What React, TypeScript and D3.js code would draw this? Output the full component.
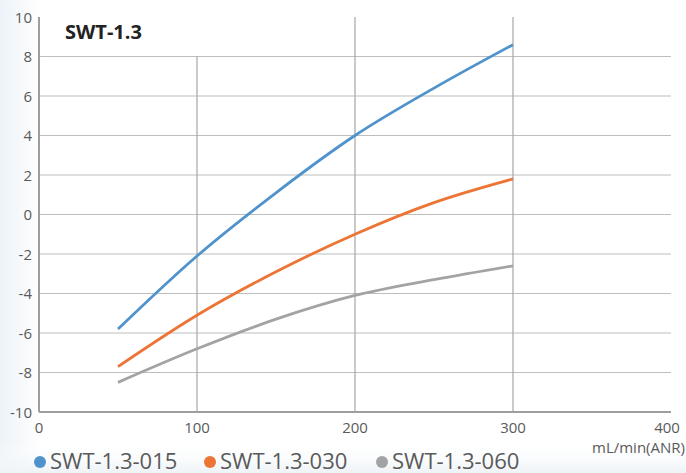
import { useEffect, useRef } from "react";
import * as d3 from "d3";

// flow values (mL/min ANR) and readings for each model
const flows = [50, 100, 150, 200, 250, 300];
const swt015 = [-5.8, -2.1, 1.1, 4.0, 6.4, 8.6];
const swt030 = [-7.7, -5.1, -2.9, -1.0, 0.6, 1.8];
const swt060 = [-8.5, -6.8, -5.3, -4.1, -3.3, -2.6];

const seriesNames = ["SWT-1.3-015", "SWT-1.3-030", "SWT-1.3-060"];
const seriesColors = ["#4f92cc", "#ec7434", "#a3a3a3"];
const xTicks = [0, 100, 200, 300, 400];
const yTicks = [-10, -8, -6, -4, -2, 0, 2, 4, 6, 8, 10];

const App = () => {
  const svgRef = useRef<SVGSVGElement | null>(null);

  const width = 686;
  const height = 473;

  useEffect(() => {
    if (!svgRef.current) return;
    const svg = d3.select(svgRef.current);
    svg.selectAll("*").remove();

    const left = 39;
    const right = 671;
    const top = 17;
    const bottom = 412;

    const x = d3.scaleLinear().domain([0, 400]).range([left, right]);
    const y = d3.scaleLinear().domain([-10, 10]).range([bottom, top]);

    const font = "'Open Sans', 'Noto Sans', sans-serif";
    const textColor = "#5a5a5a";

    // soft background tint
    const defs = svg.append("defs");
    const grad = defs.append("linearGradient").attr("id", "bg").attr("x1", 0).attr("x2", 1).attr("y1", 0).attr("y2", 0);
    grad.append("stop").attr("offset", "0%").attr("stop-color", "#ecf3f8");
    grad.append("stop").attr("offset", "6%").attr("stop-color", "#ffffff");
    grad.append("stop").attr("offset", "100%").attr("stop-color", "#ffffff");
    svg.append("rect").attr("width", width).attr("height", height).attr("fill", "url(#bg)");
    const grad2 = defs.append("linearGradient").attr("id", "bg2").attr("x1", 0).attr("x2", 0).attr("y1", 0).attr("y2", 1);
    grad2.append("stop").attr("offset", "0%").attr("stop-color", "#ffffff").attr("stop-opacity", 0);
    grad2.append("stop").attr("offset", "100%").attr("stop-color", "#eef3f7").attr("stop-opacity", 1);
    svg.append("rect").attr("y", 440).attr("width", width).attr("height", 33).attr("fill", "url(#bg2)");

    // horizontal grid
    svg.append("g")
      .selectAll("line")
      .data(yTicks.filter((t) => t > -10 && t < 10))
      .join("line")
      .attr("x1", left)
      .attr("x2", right)
      .attr("y1", (d) => y(d))
      .attr("y2", (d) => y(d))
      .attr("stroke", "#bdbdbd")
      .attr("stroke-width", 1.2);

    // vertical grid (the 100 line stops under the title)
    svg.append("g")
      .selectAll("line")
      .data(xTicks.filter((t) => t > 0 && t < 400))
      .join("line")
      .attr("x1", (d) => x(d))
      .attr("x2", (d) => x(d))
      .attr("y1", (d) => (d === 100 ? y(8) : top))
      .attr("y2", bottom)
      .attr("stroke", "#a6a6a6")
      .attr("stroke-width", 1.2);

    // axes
    svg.append("line")
      .attr("x1", x(0)).attr("x2", x(0))
      .attr("y1", top).attr("y2", bottom)
      .attr("stroke", "#9e9e9e").attr("stroke-width", 2);
    svg.append("line")
      .attr("x1", left).attr("x2", right)
      .attr("y1", bottom).attr("y2", bottom)
      .attr("stroke", "#9e9e9e").attr("stroke-width", 2);

    // tick labels
    svg.append("g")
      .selectAll("text")
      .data(yTicks)
      .join("text")
      .attr("x", 32)
      .attr("y", (d) => y(d) + 5.5)
      .attr("text-anchor", "end")
      .attr("font-family", font)
      .attr("font-size", 15)
      .attr("fill", textColor)
      .text((d) => d);

    svg.append("g")
      .selectAll("text")
      .data(xTicks)
      .join("text")
      .attr("x", (d) => (d === 400 ? x(d) - 4 : x(d)))
      .attr("y", 433)
      .attr("text-anchor", "middle")
      .attr("font-family", font)
      .attr("font-size", 15)
      .attr("fill", textColor)
      .text((d) => d);

    svg.append("text")
      .attr("x", 685)
      .attr("y", 453)
      .attr("text-anchor", "end")
      .attr("font-family", font)
      .attr("font-size", 15)
      .attr("fill", textColor)
      .text("mL/min(ANR)");

    // title
    svg.append("text")
      .attr("x", 65)
      .attr("y", 39)
      .attr("font-family", font)
      .attr("font-size", 20)
      .attr("font-weight", "bold")
      .attr("fill", "#222")
      .text("SWT-1.3");

    // curves
    const seriesData = [swt015, swt030, swt060];
    const line = d3.line<number>()
      .x((_, i) => x(flows[i]))
      .y((d) => y(d))
      .curve(d3.curveMonotoneX);

    seriesData.forEach((vals, i) => {
      svg.append("path")
        .attr("d", line(vals))
        .attr("fill", "none")
        .attr("stroke", seriesColors[i])
        .attr("stroke-width", 2.8);
    });

    // legend
    const legendX = [40, 210, 382];
    const legend = svg.append("g");
    seriesNames.forEach((name, i) => {
      legend.append("circle")
        .attr("cx", legendX[i])
        .attr("cy", 462)
        .attr("r", 6)
        .attr("fill", seriesColors[i]);
      legend.append("text")
        .attr("x", legendX[i] + 10)
        .attr("y", 469)
        .attr("font-family", font)
        .attr("font-size", 22)
        .attr("fill", textColor)
        .text(name);
    });
  }, []);

  return (
    <div style={{ position: "absolute", left: 0, top: 0, width: `${width}px`, height: `${height}px`, background: "#fff" }}>
      <svg ref={svgRef} width={width} height={height} viewBox={`0 0 ${width} ${height}`} />
    </div>
  );
};

export default App;
